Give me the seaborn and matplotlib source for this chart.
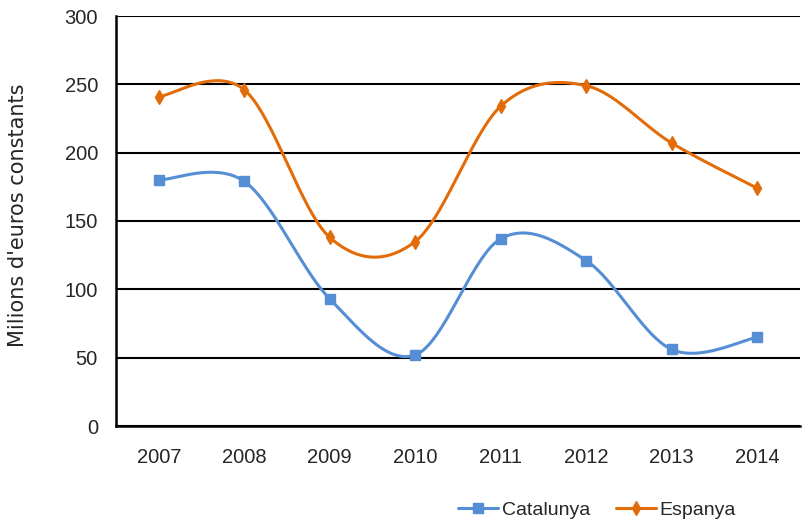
import numpy as np
import pandas as pd
import matplotlib
matplotlib.use('Agg')
import matplotlib.pyplot as plt
import seaborn as sns

# data
years = ['2007', '2008', '2009', '2010', '2011', '2012', '2013', '2014']
catalunya = [180, 179, 93, 52, 137, 121, 56, 65]
espanya = [241, 246, 138, 135, 234, 249, 207, 174]

blue = '#558ED5'
orange = '#E36C0A'

sns.set_style('white')
narrow = ['Liberation Sans Narrow', 'Liberation Sans', 'DejaVu Sans']
plt.rcParams['font.family'] = narrow


# excel-like smoothed line (catmull-rom between the data points)
def smooth(x, y, n=40):
    x = np.asarray(x, float)
    y = np.asarray(y, float)
    px = np.concatenate([[x[0]], x, [x[-1]]])
    py = np.concatenate([[y[0]], y, [y[-1]]])
    xs, ys = [], []
    t = np.linspace(0, 1, n)
    for i in range(1, len(px) - 2):
        p0, p1, p2, p3 = np.array([px[i-1], py[i-1]]), np.array([px[i], py[i]]), np.array([px[i+1], py[i+1]]), np.array([px[i+2], py[i+2]])
        c1 = p1 + (p2 - p0) / 6
        c2 = p2 - (p3 - p1) / 6
        pts = ((1-t)**3)[:, None]*p1 + (3*(1-t)**2*t)[:, None]*c1 + (3*(1-t)*t**2)[:, None]*c2 + (t**3)[:, None]*p2
        xs.extend(pts[:, 0])
        ys.extend(pts[:, 1])
    return np.array(xs), np.array(ys)


pos = np.arange(len(years))
df = pd.DataFrame({'pos': pos, 'Catalunya': catalunya, 'Espanya': espanya})

fig = plt.figure(figsize=(8.09, 5.23), dpi=100)
ax = fig.add_axes([116/809, 1-426/523, (800-116)/809, 410/523])

for col, c, m, ms in [('Catalunya', blue, 's', 7.5), ('Espanya', orange, 'd', 7)]:
    sx, sy = smooth(df['pos'], df[col])
    ax.plot(sx, sy, color=c, lw=2.2, zorder=3)
    ax.plot(df['pos'], df[col], ls='none', marker=m, ms=ms, color=c, zorder=4)
    ax.plot([], [], color=c, lw=2.2, marker=m, ms=ms, label=col)

ax.set_xlim(-0.5, len(years) - 0.5)
ax.set_ylim(0, 300)
ax.set_yticks(range(0, 301, 50))
ax.set_xticks(pos)
ax.set_xticklabels(years)
ax.set_xticks(np.arange(-0.5, len(years)), minor=True)
ax.tick_params(axis='x', which='major', length=0, labelsize=14.5, pad=16)
ax.tick_params(axis='x', which='minor', length=4.5, width=1.2, color='black', direction='out')
ax.tick_params(axis='y', length=4.5, width=1.2, color='black', direction='out', labelsize=14.5, pad=8.5)
ax.yaxis.grid(True, color='black', lw=1.5)
ax.set_axisbelow(True)
sns.despine(ax=ax)
for s in ['left', 'bottom']:
    ax.spines[s].set_color('black')
    ax.spines[s].set_linewidth(1.8)
ax.set_ylabel("Milions d'euros constants", fontsize=15, family=['DejaVu Sans'])
ax.yaxis.set_label_coords((28 - 116) / 684, (426 - 215) / 410)

fig.legend(loc='center', bbox_to_anchor=(597/809, 1-510/523), ncol=2, frameon=False,
           fontsize=14, handlelength=2.05, columnspacing=1.35, handletextpad=0.2)

fig.savefig('out.png', dpi=100)
